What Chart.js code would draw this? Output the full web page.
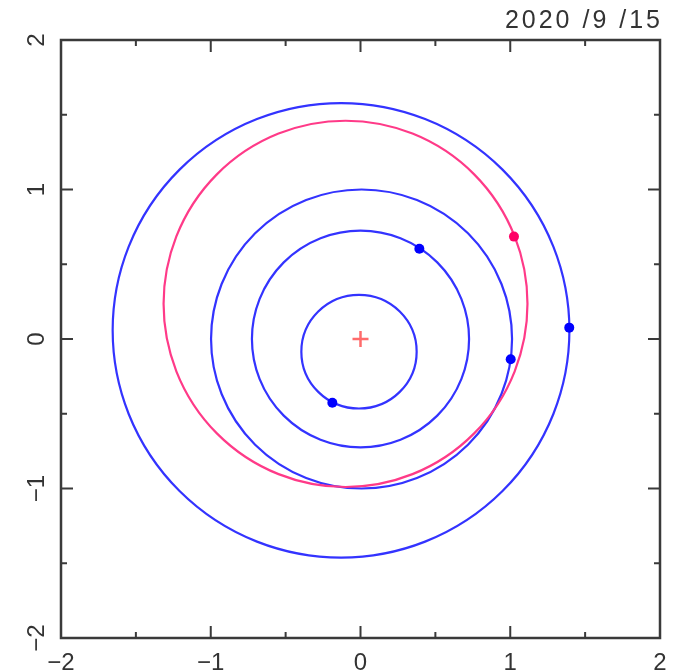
<!DOCTYPE html>
<html>
<head>
<meta charset="utf-8">
<script src="https://cdn.jsdelivr.net/npm/chart.js@4"></script>
<style>
  html, body { margin: 0; padding: 0; background: #ffffff; }
  canvas { display: block; }
</style>
</head>
<body>
<canvas id="c" width="679" height="672"></canvas>
<script>
// ---- data ----
const titleText = '2020 /9 /15';
const majorTicks = [-2, -1, 0, 1, 2];
const minorTicks = [-1.5, -0.5, 0.5, 1.5];

// orbits (centre and semi-axes, in AU)
const orbitNames   = ['Mercury', 'Venus', 'Earth', 'Mars', 'Object'];
const orbitCenterX = [-0.01, 0.0, 0.007, -0.13, -0.10];
const orbitCenterY = [-0.085, 0.0, 0.0, 0.058, 0.235];
const orbitRadiusX = [0.385, 0.725, 1.005, 1.525, 1.215];
const orbitRadiusY = [0.380, 0.725, 1.000, 1.520, 1.225];
const orbitColors  = ['#3333ff', '#3333ff', '#3333ff', '#3333ff', '#ff3a88'];

// current positions
const planetX = [-0.188, 0.393, 1.003, 1.394];
const planetY = [-0.426, 0.604, -0.136, 0.076];
const objectX = [1.025];
const objectY = [0.685];
const sunX = [0];
const sunY = [0];

const fontFamily = '"Liberation Sans", Arial, sans-serif';
const toPts = (xs, ys) => xs.map((x, i) => ({ x: x, y: ys[i] }));
const fmt = v => String(v).replace('-', '\u2212');

const orbitPlugin = {
  id: 'orbits',
  beforeDatasetsDraw(chart) {
    const ctx = chart.ctx, xs = chart.scales.x, ys = chart.scales.y;
    ctx.save();
    orbitNames.forEach((n, i) => {
      const cx = xs.getPixelForValue(orbitCenterX[i]);
      const cy = ys.getPixelForValue(orbitCenterY[i]);
      const rx = Math.abs(xs.getPixelForValue(orbitCenterX[i] + orbitRadiusX[i]) - cx);
      const ry = Math.abs(ys.getPixelForValue(orbitCenterY[i] + orbitRadiusY[i]) - cy);
      ctx.beginPath();
      ctx.ellipse(cx, cy, rx, ry, 0, 0, Math.PI * 2);
      ctx.strokeStyle = orbitColors[i];
      ctx.lineWidth = 2.2;
      ctx.stroke();
    });
    ctx.restore();
  }
};

const framePlugin = {
  id: 'frame',
  afterDraw(chart) {
    const ctx = chart.ctx, xs = chart.scales.x, ys = chart.scales.y;
    const a = chart.chartArea;
    ctx.save();
    ctx.strokeStyle = '#3a3a3a';
    ctx.lineWidth = 2.5;
    ctx.lineCap = 'square';
    ctx.strokeRect(a.left, a.top, a.right - a.left, a.bottom - a.top);
    ctx.lineCap = 'butt';
    const tick = (vals, len) => {
      vals.forEach(v => {
        const px = xs.getPixelForValue(v);
        const py = ys.getPixelForValue(v);
        ctx.beginPath();
        ctx.moveTo(px, a.bottom); ctx.lineTo(px, a.bottom - len);
        ctx.moveTo(px, a.top); ctx.lineTo(px, a.top + len);
        ctx.moveTo(a.left, py); ctx.lineTo(a.left + len, py);
        ctx.moveTo(a.right, py); ctx.lineTo(a.right - len, py);
        ctx.stroke();
      });
    };
    ctx.lineWidth = 2;
    tick(majorTicks.slice(1, -1), 12);
    tick(minorTicks, 6);

    // rotated y tick labels
    ctx.fillStyle = '#333333';
    ctx.font = '24px ' + fontFamily;
    ctx.textAlign = 'center';
    ctx.textBaseline = 'alphabetic';
    majorTicks.forEach(v => {
      const py = ys.getPixelForValue(v);
      ctx.save();
      ctx.translate(a.left - 17, py);
      ctx.rotate(-Math.PI / 2);
      ctx.fillText(fmt(v), 0, 0);
      ctx.restore();
    });

    // date title, top right
    ctx.font = '25px ' + fontFamily;
    ctx.textAlign = 'right';
    ctx.textBaseline = 'alphabetic';
    try { ctx.letterSpacing = '3px'; } catch (e) {}
    ctx.fillText(titleText, a.right + 3, 28);
    ctx.restore();
  }
};

new Chart(document.getElementById('c'), {
  type: 'scatter',
  data: {
    datasets: [
      { label: 'Planets', data: toPts(planetX, planetY), pointRadius: 5,
        backgroundColor: '#0000ff', borderColor: '#0000ff', borderWidth: 0 },
      { label: 'Object', data: toPts(objectX, objectY), pointRadius: 5,
        backgroundColor: '#ff0066', borderColor: '#ff0066', borderWidth: 0 },
      { label: 'Sun', data: toPts(sunX, sunY), pointStyle: 'cross', pointRadius: 8,
        borderColor: 'rgba(255,70,70,0.8)', borderWidth: 2.5 }
    ]
  },
  options: {
    responsive: false,
    devicePixelRatio: 1,
    animation: false,
    layout: { padding: { top: 40, right: 19, left: 0, bottom: 0 } },
    plugins: { legend: { display: false }, tooltip: { enabled: false }, title: { display: false } },
    scales: {
      x: {
        type: 'linear', min: -2, max: 2,
        grid: { display: false, drawTicks: false },
        border: { display: false },
        ticks: { stepSize: 1, padding: 11, color: '#333333',
                 font: { size: 24, family: fontFamily },
                 callback: v => fmt(v), maxRotation: 0, autoSkip: false },
        afterFit: s => { s.height = 34; }
      },
      y: {
        type: 'linear', min: -2, max: 2,
        grid: { display: false, drawTicks: false },
        border: { display: false },
        ticks: { display: false, stepSize: 1 },
        afterFit: s => { s.width = 61; }
      }
    }
  },
  plugins: [orbitPlugin, framePlugin]
});
</script>
</body>
</html>
